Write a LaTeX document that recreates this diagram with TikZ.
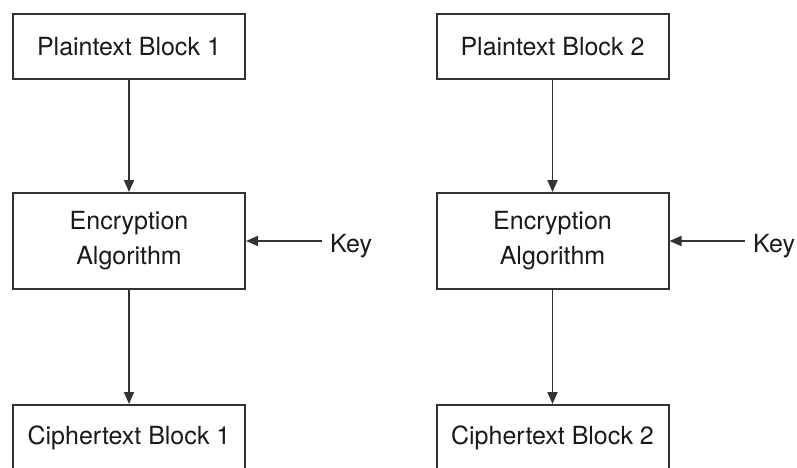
\documentclass[tikz,border=0pt]{standalone}
\usepackage{fontspec}
\setmainfont{TeX Gyre Heros}
\usetikzlibrary{arrows.meta}
\definecolor{linegray}{HTML}{333333}
\definecolor{textgray}{HTML}{1A1A1A}
\tikzset{
  blockbox/.style={draw=linegray, line width=2pt, fill=white,
    minimum width=232pt, inner sep=0pt, text=textgray,
    align=center, font=\fontsize{25}{35}\selectfont},
  flow/.style={draw=linegray, line width=1.8pt,
    -{Triangle[length=12pt,width=10pt]}},
  keylabel/.style={inner xsep=8pt, inner ysep=0pt, text=textgray,
    font=\fontsize{25}{30}\selectfont, anchor=base west},
}
\begin{document}
\begin{tikzpicture}[x=1pt, y=-1pt]
  \useasboundingbox (0,0) rectangle (797,468);
  % left column
  \node[blockbox, minimum height=65pt] (p1) at (129,46.5) {Plaintext Block 1};
  \node[blockbox, minimum height=96pt] (e1) at (129,241) {Encryption\\Algorithm};
  \node[blockbox, minimum height=65pt] (c1) at (129,437.5) {Ciphertext Block 1};
  \node[keylabel] (k1) at (322,252) {Key};
  \draw[flow] (p1) -- (e1);
  \draw[flow] (e1) -- (c1);
  \draw[flow] (k1.west |- e1.east) -- (e1.east);
  % right column
  \node[blockbox, minimum height=65pt] (p2) at (552.5,46.5) {Plaintext Block 2};
  \node[blockbox, minimum height=96pt] (e2) at (552.5,241) {Encryption\\Algorithm};
  \node[blockbox, minimum height=65pt] (c2) at (552.5,437.5) {Ciphertext Block 2};
  \node[keylabel] (k2) at (745,252) {Key};
  \draw[flow] (p2) -- (e2);
  \draw[flow] (e2) -- (c2);
  \draw[flow] (k2.west |- e2.east) -- (e2.east);
\end{tikzpicture}
\end{document}
